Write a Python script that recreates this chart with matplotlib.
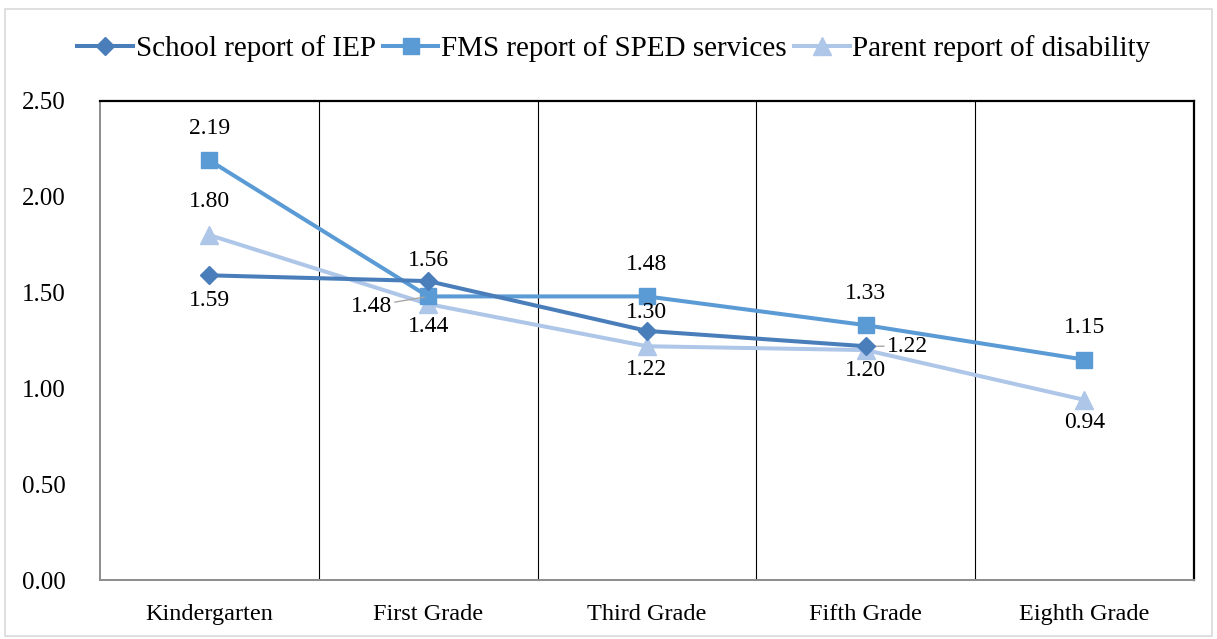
import matplotlib.pyplot as plt
from matplotlib.patches import Rectangle

plt.rc('font', family='Liberation Serif', size=16)

grades = ['Kindergarten', 'First Grade', 'Third Grade', 'Fifth Grade', 'Eighth Grade']
school_iep = [1.59, 1.56, 1.30, 1.22]
fms_sped = [2.19, 1.48, 1.48, 1.33, 1.15]
parent_dis = [1.80, 1.44, 1.22, 1.20, 0.94]

c_school = '#4a7ebb'
c_fms = '#5b9bd5'
c_parent = '#aec6e8'

fig = plt.figure(figsize=(12.17, 6.39), dpi=100)
ax = fig.add_axes([0.0822, 0.0923, 0.8988, 0.7497])

x = range(len(grades))
ax.plot(range(len(school_iep)), school_iep, color=c_school, lw=2.9,
        marker='D', ms=9.5, label='School report of IEP', zorder=4)
ax.plot(x, fms_sped, color=c_fms, lw=2.9,
        marker='s', ms=12, label='FMS report of SPED services', zorder=3)
ax.plot(x, parent_dis, color=c_parent, lw=2.9,
        marker='^', ms=13, label='Parent report of disability', zorder=2)

# data labels (offsets in points)
kw = dict(textcoords='offset points', ha='center', va='center', fontsize=17)
leader = dict(arrowstyle='-', color='#a6a6a6', lw=1, shrinkA=0, shrinkB=3)

school_off = [(0, -18), (0, 15), (0, 13), (30, 0)]
for i, v in enumerate(school_iep):
    ax.annotate('%.2f' % v, (i, v), xytext=school_off[i],
                arrowprops=leader if i == 3 else None, **kw)

fms_off = [(0, 23), (-41, -7), (0, 23), (0, 23), (0, 23)]
for i, v in enumerate(fms_sped):
    ax.annotate('%.2f' % v, (i, v), xytext=fms_off[i],
                arrowprops=leader if i == 1 else None, **kw)

parent_off = [(0, 24), (0, -16), (0, -17), (0, -15), (0, -16)]
for i, v in enumerate(parent_dis):
    ax.annotate('%.2f' % v, (i, v), xytext=parent_off[i], **kw)

ax.set_xlim(-0.5, len(grades) - 0.5)
ax.set_ylim(0, 2.5)
ax.set_yticks([0, 0.5, 1.0, 1.5, 2.0, 2.5])
ax.set_yticklabels(['%.2f' % t for t in ax.get_yticks()], fontsize=18)
ax.set_xticks(list(x))
ax.set_xticklabels(grades, fontsize=17.5)
ax.tick_params(axis='y', length=0, pad=25)
ax.tick_params(axis='x', length=0, pad=17)

for b in range(1, len(grades)):
    ax.axvline(b - 0.5, color='black', lw=0.8, zorder=1)

ax.spines['top'].set_linewidth(1.6)
ax.spines['right'].set_linewidth(1.6)
ax.spines['left'].set_color('#8c8c8c')
ax.spines['bottom'].set_color('#8c8c8c')
ax.spines['left'].set_linewidth(1.4)
ax.spines['bottom'].set_linewidth(1.4)

fig.legend(loc='center', bbox_to_anchor=(0.5045, 0.924), ncol=3, frameon=False,
           fontsize=21, handlelength=1.9, columnspacing=0.25, handletextpad=0.1)

fig.patches.append(Rectangle((0.004, 0.005), 0.992, 0.981, transform=fig.transFigure,
                             fill=False, edgecolor='#d9d9d9', lw=1.2))

fig.savefig('out.png', dpi=100)
